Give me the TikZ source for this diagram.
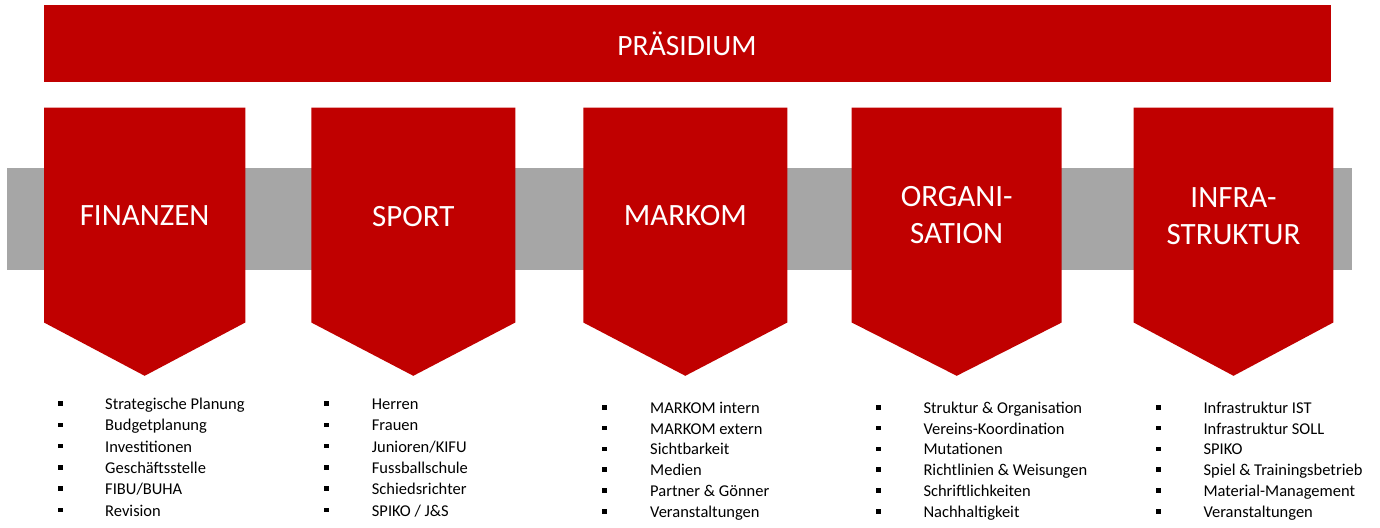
\documentclass[tikz,border=0pt]{standalone}
\usepackage{fontspec}
\setmainfont{Carlito}
\definecolor{dred}{RGB}{192,0,0}
\definecolor{band}{RGB}{166,166,166}
\tikzset{
  headtext/.style={text=white, align=center, inner sep=0pt, font=\fontsize{31}{36.7}\selectfont},
  bannertext/.style={text=white, inner sep=0pt, font=\fontsize{29.5}{34}\selectfont},
  itemtext/.style={anchor=base west, inner sep=0pt, text=black, font=\fontsize{16.5}{20}\selectfont},
  bul/.style={fill=black, inner sep=0pt, minimum size=4.5pt, draw=none},
  chev/.style={fill=dred, draw=none},
}
\newcommand{\chevron}[2]{% left, right
  \fill[dred] (#1,107.7) -- (#2,107.7) -- (#2,322.5) -- ({(#1+#2)/2},375.8) -- (#1,322.5) -- cycle;}
\begin{document}
\begin{tikzpicture}[x=1pt,y=-1pt]
\useasboundingbox (0,0) rectangle (1380,527);
% banner
\fill[dred] (44,5) rectangle (1331,81.7);
\node[bannertext] (praes) at (687,43.3) {PRÄSIDIUM};
% gray band
\fill[band] (7,168) rectangle (1351.7,269.7);
% chevrons
\chevron{44}{245.3}
\chevron{311.3}{515.3}
\chevron{583.3}{787.3}
\chevron{851.7}{1061.7}
\chevron{1133.7}{1333.3}
\node[headtext] (fin) at (144.6,215.5) {FINANZEN};
\node[headtext] (spo) at (413.3,216.5) {SPORT};
\node[headtext] (mar) at (685.3,216) {MARKOM};
\node[headtext] (org) at (956.7,215.3) {ORGANI-\\SATION};
\node[headtext] (inf) at (1233.5,216) {INFRA-\\STRUKTUR};
% lists
\foreach \t [count=\i] in {{Strategische Planung},{Budgetplanung},{Investitionen},{Geschäftsstelle},{FIBU/BUHA},{Revision}}{
  \node[bul] (fb\i) at (60.7,{409.5+21.3*(\i-1)-6}) {};
  \node[itemtext] (ft\i) at (105,{409.5+21.3*(\i-1)}) {\t};
}
\foreach \t [count=\i] in {{Herren},{Frauen},{Junioren/KIFU},{Fussballschule},{Schiedsrichter},{SPIKO / J\&S}}{
  \node[bul] (sb\i) at (326.7,{409.5+21.3*(\i-1)-6}) {};
  \node[itemtext] (st\i) at (371.7,{409.5+21.3*(\i-1)}) {\t};
}
\foreach \t [count=\i] in {{MARKOM intern},{MARKOM extern},{Sichtbarkeit},{Medien},{Partner \& Gönner},{Veranstaltungen}}{
  \node[bul] (mb\i) at (604.5,{413.3+20.8*(\i-1)-6}) {};
  \node[itemtext] (mt\i) at (650,{413.3+20.8*(\i-1)}) {\t};
}
\foreach \t [count=\i] in {{Struktur \& Organisation},{Vereins-Koordination},{Mutationen},{Richtlinien \& Weisungen},{Schriftlichkeiten},{Nachhaltigkeit}}{
  \node[bul] (ob\i) at (878.3,{413.3+20.8*(\i-1)-6}) {};
  \node[itemtext] (ot\i) at (923.3,{413.3+20.8*(\i-1)}) {\t};
}
\foreach \t [count=\i] in {{Infrastruktur IST},{Infrastruktur SOLL},{SPIKO},{Spiel \& Trainingsbetrieb},{Material-Management},{Veranstaltungen}}{
  \node[bul] (ib\i) at (1158.3,{413.3+20.8*(\i-1)-6}) {};
  \node[itemtext] (it\i) at (1203.3,{413.3+20.8*(\i-1)}) {\t};
}
\end{tikzpicture}
\end{document}
